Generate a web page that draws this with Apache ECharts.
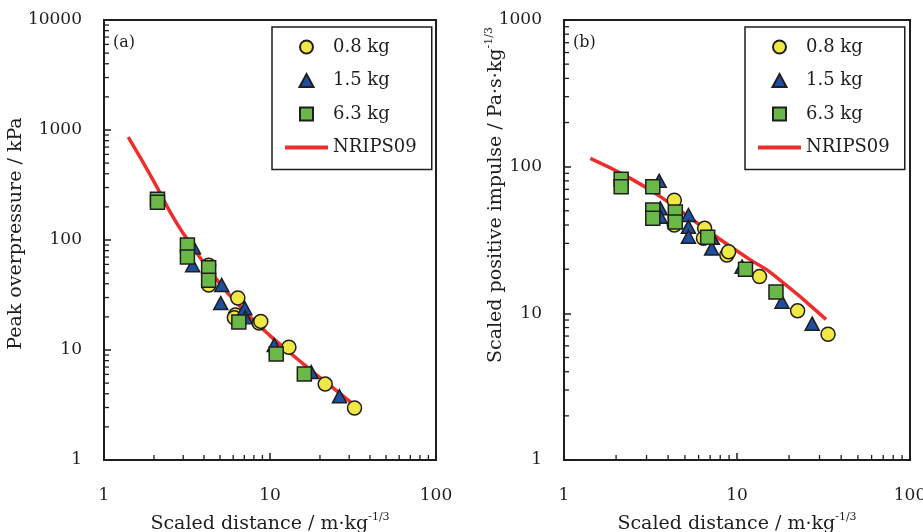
<!DOCTYPE html>
<html>
<head>
<meta charset="utf-8">
<script src="https://cdn.jsdelivr.net/npm/echarts@6/dist/echarts.min.js"></script>
<style>
  html, body { margin: 0; padding: 0; background: #fff; }
  #chart { width: 923px; height: 532px; }
</style>
</head>
<body>
<div id="chart"></div>
<script>
// (a) Peak overpressure against scaled distance, [Z (m·kg^-1/3), kPa]
const overpressure08 = [[4.27, 59], [4.27, 39], [6.4, 29.7], [6.2, 20.8], [6.1, 19.6], [8.6, 17.6], [8.8, 18.2], [13.0, 10.6], [21.5, 4.9], [32.3, 2.97]];
const overpressure15 = [[3.46, 86], [3.42, 59], [5.12, 39], [5.05, 26.7], [7.05, 24], [7.1, 19.8], [10.6, 11.1], [17.7, 6.3], [26.2, 3.8]];
const overpressure63 = [[2.1, 235], [2.1, 220], [3.18, 90], [3.18, 70], [4.27, 56], [4.27, 43], [6.49, 18], [10.9, 9.2], [16.1, 6.05]];
const overpressureModel = [[1.4, 860], [2.0, 340], [2.5, 180], [3.0, 115], [4.0, 62], [5.0, 40], [6.0, 29], [8.0, 18.5], [10, 13.5], [13, 9.6], [16, 7.4], [20, 5.6], [25, 4.3], [31, 3.3]];

// (b) Scaled positive impulse against scaled distance, [Z, Pa·s·kg^-1/3]
const impulse08 = [[4.34, 59], [4.34, 40], [6.5, 38], [6.4, 32.5], [8.74, 25], [8.94, 26.3], [13.5, 17.8], [22.4, 10.4], [33.6, 7.2]];
const impulse15 = [[3.55, 80], [3.6, 52], [3.6, 45.6], [5.24, 46.8], [5.24, 38.9], [5.24, 33.3], [7.2, 32.8], [7.14, 27.7], [10.7, 20.8], [18.2, 12.0], [27.2, 8.5]];
const impulse63 = [[2.14, 82], [2.14, 73], [3.26, 73], [3.26, 50.6], [3.26, 44.5], [4.4, 49], [4.4, 42], [6.77, 33], [11.2, 20], [16.8, 14.0]];
const impulseModel = [[1.42, 114], [2.34, 85], [3.64, 62], [7.14, 35], [11.7, 23.5], [16, 18.6], [32.7, 9.1]];

const seriesNames = ['0.8 kg', '1.5 kg', '6.3 kg', 'NRIPS09'];
const panelTags = ['(a)', '(b)'];

const FONT = '"DejaVu Serif", "Liberation Serif", serif';
const INK = '#1e1e1e';
const COLORS = { c08: '#efe845', c15: '#1f4e9e', c63: '#6ab847', model: '#ee2d2d' };

// legend glyphs drawn as paths so they keep their aspect inside a wide legend slot
const ICONS = {
  '0.8 kg': 'circle',
  '1.5 kg': 'path://M7,0L14,13L0,13Z',
  '6.3 kg': 'path://M0,0L13,0L13,13L0,13Z',
  'NRIPS09': 'path://M0,0L44,0L44,4L0,4Z'
};

// minor tick values (2..9 in each decade) between lo and hi
function minorTicks(lo, hi) {
  const out = [];
  for (let d = lo; d < hi; d *= 10) {
    for (let m = 2; m <= 9; m++) out.push(m * d);
  }
  return out;
}

function minorTickData(xMax, yMax) {
  const data = [];
  minorTicks(1, xMax).forEach(v => data.push([v, 1, 0]));
  minorTicks(1, yMax).forEach(v => data.push([1, v, 1]));
  return data;
}

function minorTickSeries(idx, xMax, yMax) {
  return {
    type: 'custom',
    xAxisIndex: idx, yAxisIndex: idx,
    silent: true, clip: false, z: 5,
    data: minorTickData(xMax, yMax),
    renderItem: function (params, api) {
      const p = api.coord([api.value(0), api.value(1)]);
      const horizontal = api.value(2) === 0;
      const len = 5;
      return {
        type: 'line',
        shape: horizontal
          ? { x1: p[0], y1: p[1], x2: p[0], y2: p[1] - len }
          : { x1: p[0], y1: p[1], x2: p[0] + len, y2: p[1] },
        style: { stroke: INK, lineWidth: 1.3 }
      };
    }
  };
}

const tickLabel = (margin) => ({
  fontFamily: FONT, fontSize: 17, color: INK, margin: margin,
  formatter: v => String(Math.round(v))
});

function logAxis(idx, max, name, nameGap, labelMargin, namePadding) {
  return {
    type: 'log', logBase: 10, min: 1, max: max, gridIndex: idx,
    axisLine: { show: true, lineStyle: { color: INK, width: 2 } },
    axisTick: { show: true, inside: true, length: 7, lineStyle: { color: INK, width: 1.5 } },
    splitLine: { show: false },
    axisLabel: tickLabel(labelMargin),
    name: name,
    nameLocation: 'middle',
    nameGap: nameGap,
    nameMoveOverlap: false,
    nameTextStyle: {
      fontFamily: FONT, fontSize: 19, color: INK,
      padding: namePadding,
      rich: {
        n: { fontFamily: FONT, fontSize: 19, color: INK, lineHeight: 25 },
        s: { fontFamily: FONT, fontSize: 11, color: INK, verticalAlign: 'top' }
      }
    }
  };
}

function scatter(name, idx, data, symbol, size, color) {
  return {
    name: name, type: 'scatter', xAxisIndex: idx, yAxisIndex: idx,
    data: data, symbol: symbol, symbolSize: size, z: 3,
    itemStyle: { color: color, borderColor: INK, borderWidth: 1.5, opacity: 1 }
  };
}

function modelLine(idx, data) {
  return {
    name: 'NRIPS09', type: 'line', xAxisIndex: idx, yAxisIndex: idx,
    data: data, smooth: true, symbol: 'none', showSymbol: false, z: 2,
    lineStyle: { color: COLORS.model, width: 3.5 },
    itemStyle: { color: COLORS.model, borderWidth: 0 }
  };
}

function legendBox(left) {
  return {
    data: seriesNames.map(n => ({ name: n, icon: ICONS[n] })),
    orient: 'vertical', left: left, top: 27,
    padding: [10, 15, 12, 13], itemGap: 13.5, itemWidth: 43, itemHeight: 13,
    symbolKeepAspect: true,
    borderColor: INK, borderWidth: 1.5, selectedMode: false,
    textStyle: { fontFamily: FONT, fontSize: 18, color: INK, lineHeight: 20 }
  };
}

function panelGrid(left, width) {
  return {
    left: left, top: 20, width: width, height: 440,
    outerBoundsMode: 'none', containLabel: false,
    show: true, borderColor: INK, borderWidth: 2, backgroundColor: 'transparent'
  };
}

const xName = '{n|Scaled distance / m·kg}{s|-1/3}';

const option = {
  animation: false,
  backgroundColor: '#fff',
  title: [
    { text: panelTags[0], left: 113, top: 35, padding: 0, textStyle: { fontFamily: FONT, fontSize: 16, fontWeight: 'normal', color: INK } },
    { text: panelTags[1], left: 573, top: 35, padding: 0, textStyle: { fontFamily: FONT, fontSize: 16, fontWeight: 'normal', color: INK } }
  ],
  grid: [panelGrid(104, 332), panelGrid(564, 346)],
  xAxis: [
    logAxis(0, 100, xName, 52, 27, 0),
    logAxis(1, 100, xName, 52, 27, 0)
  ],
  yAxis: [
    logAxis(0, 10000, '{n|Peak overpressure / kPa}', 75, 22, [0, 0, 0, 13]),
    logAxis(1, 1000, '{n|Scaled positive impulse / Pa·s·kg}{s|-1/3}', 55, 22, [0, 0, 0, 90])
  ],
  legend: [legendBox(272), legendBox(745)],
  series: [
    modelLine(0, overpressureModel),
    scatter('0.8 kg', 0, overpressure08, 'circle', 14, COLORS.c08),
    scatter('1.5 kg', 0, overpressure15, 'triangle', [14, 13], COLORS.c15),
    scatter('6.3 kg', 0, overpressure63, 'rect', 14, COLORS.c63),
    minorTickSeries(0, 100, 10000),

    modelLine(1, impulseModel),
    scatter('0.8 kg', 1, impulse08, 'circle', 14, COLORS.c08),
    scatter('1.5 kg', 1, impulse15, 'triangle', [14, 13], COLORS.c15),
    scatter('6.3 kg', 1, impulse63, 'rect', 14, COLORS.c63),
    minorTickSeries(1, 100, 1000)
  ]
};

const chart = echarts.init(document.getElementById('chart'), null, { renderer: 'canvas' });
chart.setOption(option);
</script>
</body>
</html>
